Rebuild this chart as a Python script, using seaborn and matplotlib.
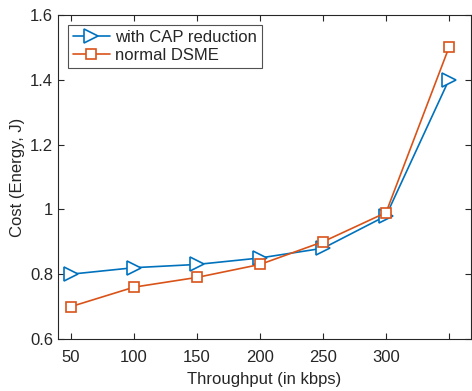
import seaborn as sns
import matplotlib.pyplot as plt
import pandas as pd

# dati
throughput = [50, 100, 150, 200, 250, 300, 350]
cap_reduction = [0.80, 0.82, 0.83, 0.85, 0.88, 0.98, 1.40]
normal_dsme = [0.70, 0.76, 0.79, 0.83, 0.90, 0.99, 1.50]
x_tick_labels = ['50', '100', '150', '200', '250', '300', '']
y_ticks = [0.6, 0.8, 1.0, 1.2, 1.4, 1.6]
y_tick_labels = ['0.6', '0.8', '1', '1.2', '1.4', '1.6']

df = pd.DataFrame({
    'Throughput': throughput * 2,
    'Cost': cap_reduction + normal_dsme,
    'Serie': ['with CAP reduction'] * len(throughput) + ['normal DSME'] * len(throughput),
})

sns.set_style('ticks')
plt.rcParams['font.family'] = ['Liberation Sans', 'DejaVu Sans']

fig = plt.figure(figsize=(4.72, 3.91), dpi=100)
ax = fig.add_axes([0.123, 0.133, 0.875, 0.829])

colori = {'with CAP reduction': '#0072BD', 'normal DSME': '#D95319'}
marker = {'with CAP reduction': '>', 'normal DSME': 's'}
msize = {'with CAP reduction': 10, 'normal DSME': 7.5}
for nome in ['with CAP reduction', 'normal DSME']:
    sns.lineplot(data=df[df['Serie'] == nome], x='Throughput', y='Cost',
                 color=colori[nome], marker=marker[nome], markersize=msize[nome],
                 markerfacecolor='white', markeredgecolor=colori[nome], markeredgewidth=1.2,
                 linewidth=1.2, label=nome, ax=ax)

ax.set_xlim(39.7, 367.5)
ax.set_ylim(0.6, 1.6)
ax.set_xticks(throughput)
ax.set_xticklabels(x_tick_labels)
ax.set_yticks(y_ticks)
ax.set_yticklabels(y_tick_labels)
ax.tick_params(direction='in', top=True, right=True, labelsize=12, length=4, colors='#262626')
ax.tick_params(axis='x', pad=8)
for s in ax.spines.values():
    s.set_visible(True)
    s.set_color('#262626')
    s.set_linewidth(0.8)

ax.set_xlabel('Throughput (in kbps)', fontsize=12, color='#262626', labelpad=5)
ax.set_ylabel('Cost (Energy, J)', fontsize=12, color='#262626')

leg = ax.legend(loc='upper left', fontsize=12, frameon=True, fancybox=False,
                edgecolor='#262626', handlelength=2.2, borderpad=0.3,
                labelspacing=0.2, handletextpad=0.3, borderaxespad=0.6)
leg.get_frame().set_linewidth(0.8)

plt.savefig('out.png', dpi=100)
